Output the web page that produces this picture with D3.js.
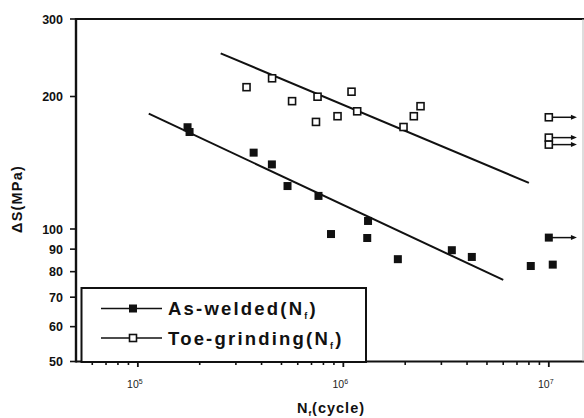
<!DOCTYPE html>
<html><head><meta charset="utf-8">
<script src="https://cdn.jsdelivr.net/npm/d3@7"></script>
<style>
html,body{margin:0;padding:0;background:#fff;}
svg{display:block;font-family:"Liberation Sans",Arial,sans-serif;}
</style></head>
<body><svg id="c" width="584" height="418"></svg>
<script>
// ---- data ----
const nAsWelded = [1.745e5, 1.785e5, 3.66e5, 4.49e5, 5.35e5, 7.57e5, 8.71e5, 1.319e6, 1.307e6, 1.842e6, 3.373e6, 4.22e6, 8.17e6, 1.045e7];
const sAsWelded = [170.3, 166.1, 149.1, 140.2, 125.2, 118.9, 97.4, 104.3, 95.4, 85.4, 89.5, 86.4, 82.4, 83.0];
const nAsWeldedRunout = [1e7];
const sAsWeldedRunout = [95.6];
const nToe = [3.38e5, 4.50e5, 5.63e5, 7.49e5, 7.36e5, 9.37e5, 1.096e6, 1.168e6, 1.963e6, 2.203e6, 2.375e6];
const sToe = [210, 220, 195.2, 199.8, 175.1, 180.4, 205.1, 185.1, 170.5, 180.4, 190.1];
const nToeRunout = [1e7, 1e7, 1e7];
const sToeRunout = [179.4, 161.3, 155.5];
const runoutArrowEndN = 1.37e7;
const fitAsWeldedN = [1.13e5, 6.0e6];
const fitAsWeldedS = [182.8, 76.6];
const fitToeN = [2.53e5, 8.0e6];
const fitToeS = [250.7, 127.3];
const yTicks = [50, 60, 70, 80, 90, 100, 200, 300];
const xMajor = [1e5, 1e6, 1e7];
const xMajorExp = ["5", "6", "7"];
const legendLabels = ["As-welded", "Toe-grinding"];

// ---- drawing ----
const svg = d3.select("#c");
const x = d3.scaleLog().domain([5e4, 1.5e7]).range([76, 585]);
const y = d3.scaleLog().domain([50, 300]).range([361.5, 19]);

svg.append("rect").attr("width",584).attr("height",418).attr("fill","#fff");

// minor x ticks
const xMinor = [];
[1e4,1e5,1e6].forEach(d => { for (let k=2;k<=9;k++){ const v=k*d; if (v>5e4 && v<1.5e7) xMinor.push(v);} });
svg.append("g").selectAll("line").data(xMinor).join("line")
  .attr("x1",d=>x(d)).attr("x2",d=>x(d)).attr("y1",361.5).attr("y2",365)
  .attr("stroke","#111").attr("stroke-width",1.6);
svg.append("g").selectAll("line").data(xMajor).join("line")
  .attr("x1",d=>x(d)).attr("x2",d=>x(d)).attr("y1",361.5).attr("y2",367)
  .attr("stroke","#111").attr("stroke-width",1.8);

// x tick labels
const xl = svg.append("g").selectAll("text").data(xMajor).join("text")
  .attr("x",d=>x(d)-3).attr("y",388).attr("text-anchor","middle")
  .attr("font-size",10.5).attr("fill","#222");
xl.append("tspan").text("10");
xl.append("tspan").attr("dy",-4.5).attr("font-size",7).text((d,i)=>xMajorExp[i]);

// y ticks
svg.append("g").selectAll("line").data(yTicks).join("line")
  .attr("x1",70).attr("x2",76).attr("y1",d=>y(d)).attr("y2",d=>y(d))
  .attr("stroke","#111").attr("stroke-width",1.6);
svg.append("g").selectAll("text").data(yTicks).join("text")
  .attr("x",63).attr("y",d=>y(d)+4.5).attr("text-anchor","end")
  .attr("font-size",12.5).attr("font-weight","bold").attr("fill","#111")
  .text(d=>d);

// frame
svg.append("line").attr("x1",76).attr("x2",584).attr("y1",19).attr("y2",19).attr("stroke","#111").attr("stroke-width",2.2);
svg.append("line").attr("x1",76).attr("x2",584).attr("y1",361.5).attr("y2",361.5).attr("stroke","#111").attr("stroke-width",2.2);
svg.append("line").attr("x1",76).attr("x2",76).attr("y1",18).attr("y2",362.5).attr("stroke","#111").attr("stroke-width",2.4);
svg.append("line").attr("x1",583).attr("x2",583).attr("y1",19).attr("y2",361.5).attr("stroke","#bbb").attr("stroke-width",1);

// fit lines
const line = d3.line().x(d=>x(d[0])).y(d=>y(d[1]));
svg.append("path").attr("d", line(d3.zip(fitAsWeldedN, fitAsWeldedS))).attr("stroke","#111").attr("stroke-width",2).attr("fill","none");
svg.append("path").attr("d", line(d3.zip(fitToeN, fitToeS))).attr("stroke","#111").attr("stroke-width",2).attr("fill","none");

// runout arrows
function arrows(ns, ss){
  const g = svg.append("g");
  d3.zip(ns, ss).forEach(([n,s])=>{
    const x0 = x(n), x1 = x(runoutArrowEndN), yy = y(s);
    g.append("line").attr("x1",x0).attr("x2",x1-4).attr("y1",yy).attr("y2",yy).attr("stroke","#111").attr("stroke-width",1.5);
    g.append("path").attr("d",`M${x1},${yy}L${x1-6},${yy-2.5}L${x1-6},${yy+2.5}Z`).attr("fill","#111");
  });
}
arrows(nAsWeldedRunout, sAsWeldedRunout);
arrows(nToeRunout, sToeRunout);

// markers
function filled(ns, ss){
  svg.append("g").selectAll("rect").data(d3.zip(ns,ss)).join("rect")
    .attr("x",d=>x(d[0])-4).attr("y",d=>y(d[1])-4).attr("width",8).attr("height",8).attr("fill","#111");
}
function open(ns, ss){
  svg.append("g").selectAll("rect").data(d3.zip(ns,ss)).join("rect")
    .attr("x",d=>x(d[0])-3.5).attr("y",d=>y(d[1])-3.5).attr("width",7).attr("height",7)
    .attr("fill","#fff").attr("stroke","#111").attr("stroke-width",1.6);
}
filled(nAsWelded, sAsWelded);
filled(nAsWeldedRunout, sAsWeldedRunout);
open(nToe, sToe);
open(nToeRunout, sToeRunout);

// legend
svg.append("rect").attr("x",81.5).attr("y",288).attr("width",284.5).attr("height",74)
  .attr("fill","#fff").attr("stroke","#111").attr("stroke-width",2);
legendLabels.forEach((lab,i)=>{
  const yy = 308.5 + i*29.5;
  svg.append("line").attr("x1",101).attr("x2",162).attr("y1",yy).attr("y2",yy).attr("stroke","#111").attr("stroke-width",1.5);
  if (i===0) svg.append("rect").attr("x",129).attr("y",yy-4).attr("width",8).attr("height",8).attr("fill","#111");
  else svg.append("rect").attr("x",129.5).attr("y",yy-3.5).attr("width",7).attr("height",7).attr("fill","#fff").attr("stroke","#111").attr("stroke-width",1.6);
  const t = svg.append("text").attr("x",168).attr("y",yy+6.5).attr("font-size",18.5).attr("font-weight","bold")
    .attr("letter-spacing",2.2).attr("fill","#111");
  t.append("tspan").text(lab + "(N");
  t.append("tspan").attr("dy",4).attr("font-size",9).text("f");
  t.append("tspan").attr("dy",-4).text(")");
});

// axis titles
svg.append("text").attr("transform","translate(22,199) rotate(-90)").attr("text-anchor","middle")
  .attr("font-size",14.5).attr("font-weight","bold").attr("letter-spacing",1.2).attr("fill","#111").text("ΔS(MPa)");
const xt = svg.append("text").attr("x",331).attr("y",413).attr("text-anchor","middle")
  .attr("font-size",14.5).attr("font-weight","bold").attr("letter-spacing",1).attr("fill","#111");
xt.append("tspan").text("N");
xt.append("tspan").attr("dy",3).attr("font-size",8).text("f");
xt.append("tspan").attr("dy",-3).text("(cycle)");
</script></body></html>
